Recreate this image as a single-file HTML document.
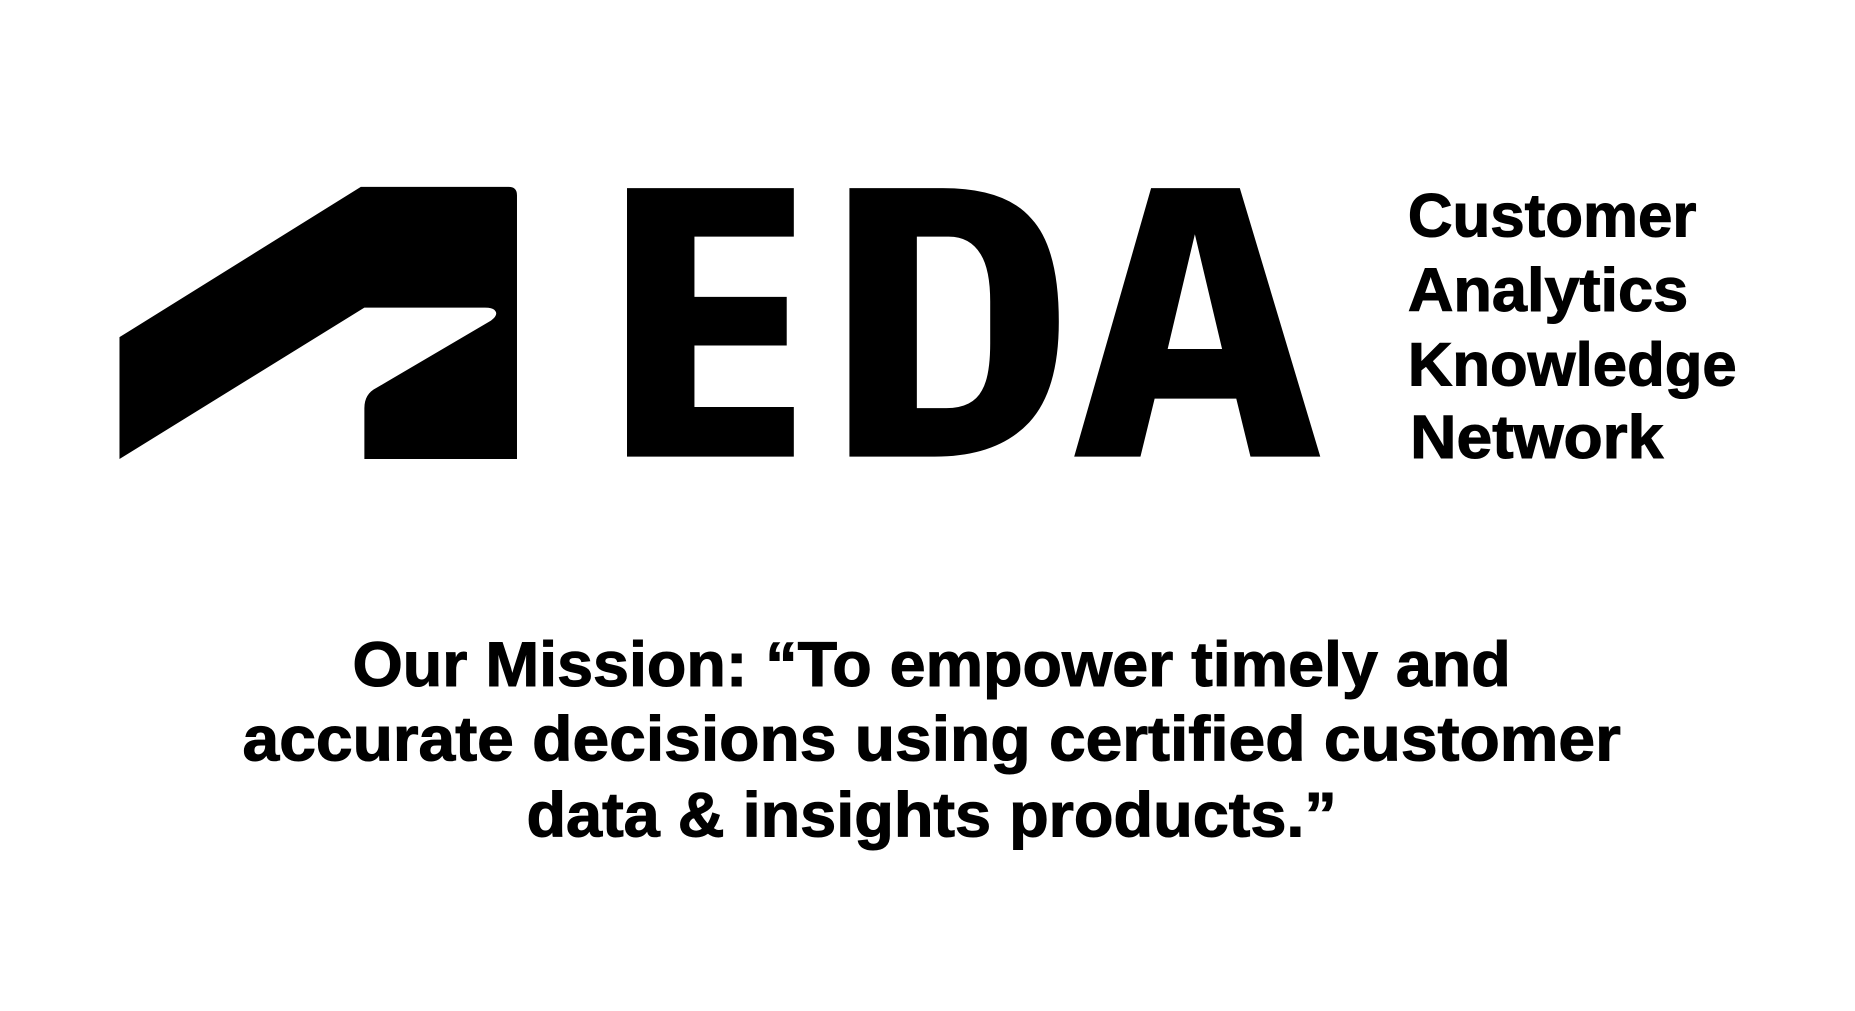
<!DOCTYPE html>
<html><head><meta charset="utf-8"><style>
html,body{margin:0;padding:0;background:#fff;width:1855px;height:1011px;overflow:hidden}
svg{display:block}
text{font-family:"Liberation Sans",sans-serif;font-weight:bold;fill:#000;stroke:#000;stroke-width:0.9px}
</style></head><body>
<svg width="1855" height="1011" viewBox="0 0 1568 854.6" preserveAspectRatio="none">
<rect width="1568" height="855" fill="#fff"/>
<g>
<path d="M305,158 L430,158 Q437,158 437,165 L437,388 L308,388 L308,345 Q308,333 318,328 L415,271 Q422,266 418,262 Q416,260 410,260 L308,260 L101,388 L101,285 Z"/>
<path d="M530,159 H671 V200 H587 V251 H665 V292 H587 V344 H671 V386 H530 Z"/>
<path fill-rule="evenodd" d="M718,159 H797 Q850,159 872,185 Q895,210 895,272 Q895,330 870,357 Q843,386 790,386 H718 Z M775,200 V345 H800 Q822,345 830,330 Q837,318 837,290 V255 Q837,228 829,215 Q820,200 802,200 Z"/>
<path fill-rule="evenodd" d="M908,386 L973,159 H1048 L1116,386 H1057 L1045,337 H976 L964,386 Z M1010,198 L987,295 H1033 Z"/>
</g>
<g>
<text x="1190" y="200" font-size="52" textLength="244" lengthAdjust="spacingAndGlyphs">Customer</text>
<text x="1190" y="263" font-size="52" textLength="237" lengthAdjust="spacingAndGlyphs">Analytics</text>
<text x="1190" y="326" font-size="52" textLength="278" lengthAdjust="spacingAndGlyphs">Knowledge</text>
<text x="1192" y="387" font-size="52" textLength="214" lengthAdjust="spacingAndGlyphs">Network</text>
</g>
<g>
<text x="298" y="580" font-size="53" textLength="979" lengthAdjust="spacingAndGlyphs">Our Mission: “To empower timely and</text>
<text x="205" y="643" font-size="53" textLength="1165" lengthAdjust="spacingAndGlyphs">accurate decisions using certified customer</text>
<text x="445" y="707" font-size="53" textLength="685" lengthAdjust="spacingAndGlyphs">data &amp; insights products.”</text>
</g>
</svg>
</body></html>
